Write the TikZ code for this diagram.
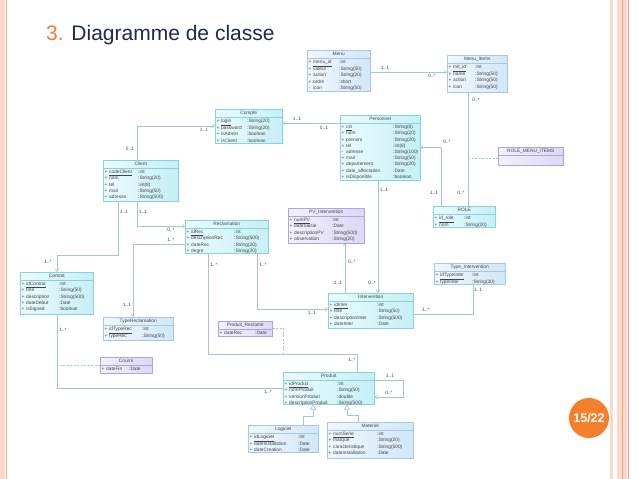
\documentclass[tikz,border=0pt]{standalone}
\usepackage{fontspec}
\usetikzlibrary{arrows.meta}
\newfontfamily\umlfont{Liberation Sans}
\newfontfamily\titlefont{Liberation Sans}

\definecolor{kcyanA}{HTML}{EAFBFD}
\definecolor{kcyanB}{HTML}{C6EFF6}
\definecolor{kcyanE}{HTML}{86D3E0}
\definecolor{kblueA}{HTML}{F0F7FD}
\definecolor{kblueB}{HTML}{D2E7F8}
\definecolor{kblueE}{HTML}{A3C9EA}
\definecolor{klavA}{HTML}{F2F0FC}
\definecolor{klavB}{HTML}{DCD8F6}
\definecolor{klavE}{HTML}{ACA6DC}
\definecolor{linec}{HTML}{A3C4E0}
\definecolor{textc}{HTML}{444444}
\definecolor{numorange}{HTML}{EE7F3B}
\definecolor{titlenavy}{HTML}{1B2A55}
\definecolor{stripeL}{HTML}{FCD8C9}
\definecolor{stripeD}{HTML}{F2A386}
\definecolor{pgorange}{HTML}{F4802C}

\tikzset{
  kcyan/.style={draw=kcyanE, left color=kcyanA, right color=kcyanB, line width=0.5pt, inner sep=0pt},
  kblue/.style={draw=kblueE, left color=kblueA, right color=kblueB, line width=0.5pt, inner sep=0pt},
  klav/.style={draw=klavE, left color=klavA, right color=klavB, line width=0.5pt, inner sep=0pt},
  hdr/.style={inner sep=0pt, text=textc, font=\umlfont\fontsize{4.8}{6.2}\selectfont},
  attr/.style={inner sep=0pt, text=textc, font=\umlfont\fontsize{4.8}{6.2}\selectfont, align=left},
  lbl/.style={inner sep=0pt, text=textc, font=\umlfont\fontsize{4.8}{6.2}\selectfont},
  assoc/.style={draw=linec, line width=0.55pt},
  nav/.style={assoc, -{Straight Barb[length=2.4pt,width=3.6pt]}},
  dep/.style={assoc, dash pattern=on 2pt off 1.5pt},
  gen/.style={assoc, -{Triangle[open, fill=white, length=5pt, width=6pt]}},
}

% #1 name, #2 style, #3 x, #4 y, #5 width, #6 height, #7 title, #8 name column width, #9 rows
\newcommand\umlclass[9]{%
  \node[#2, anchor=north west, minimum width=#5pt, minimum height=#6pt] (#1) at (#3,#4) {};
  \node[hdr, anchor=base] (#1-h) at ([yshift=-5.8pt]#1.north) {#7};
  \draw[draw=#2E, line width=0.5pt] ([yshift=-8pt]#1.north west) -- ([yshift=-8pt]#1.north east);
  \node[attr, anchor=north west] (#1-b) at ([shift={(1.5pt,-8.9pt)}]#1.north west)
    {\begin{tabular}{@{}p{4.5pt}@{}p{#8pt}@{}l@{}}#9\end{tabular}};
}
\newcommand\ul[1]{\underline{#1}}

\begin{document}
\begin{tikzpicture}[x=1pt,y=-1pt]
\useasboundingbox (0,0) rectangle (638,479);
\fill[white] (0,0) rectangle (638,479);

% slide borders
\fill[stripeL] (0,0) rectangle (5,479);
\draw[stripeD, line width=0.8pt] (6.5,0) -- (6.5,479);
\fill[stripeL] (610,0) rectangle (613.3,479);
\fill[stripeL] (617.3,0) rectangle (622,479);
\draw[stripeD, line width=0.9pt] (622.5,0) -- (622.5,479);
\fill[stripeL] (623,0) rectangle (627.3,479);
\draw[stripeD, line width=0.9pt] (628,0) -- (628,479);

% title
\node[anchor=base west, inner sep=0pt, font=\titlefont\fontsize{21}{24}\selectfont] (title) at (46,41)
  {\textcolor{numorange}{3.} \textcolor{titlenavy}{Diagramme de classe}};

% page number
\node[circle, fill=pgorange, minimum size=40pt, inner sep=0pt, text=white,
  font=\umlfont\bfseries\fontsize{12.5}{14}\selectfont] (pgnum) at (589,418) {15/22};

% classes
\umlclass{menu}{kblue}{307}{50}{63}{41}{Menu}{26}{%
  + & \ul{menu\_id} & :int\\ + & valeur & :String(50)\\ + & action & :String(20)\\
  + & ordre & :short\\ - & icon & :String(50)}
\umlclass{mitems}{kblue}{447}{55}{60}{37}{Menu\_Items}{22}{%
  + & \ul{mit\_id} & :int\\ + & name & :String(50)\\ + & action & :String(50)\\
  + & icon & :String(50)}
\umlclass{compte}{kcyan}{215}{109}{67}{34}{Compte}{26}{%
  + & \ul{login} & :String(20)\\ + & password & :String(20)\\ + & isAdmin & :boolean\\
  + & isClient & :boolean}
\umlclass{personnel}{kcyan}{340}{115}{80}{65}{Personnel}{47}{%
  + & \ul{cin} & :String(8)\\ + & nom & :String(20)\\ + & prenom & :String(20)\\
  + & tel & :int(8)\\ - & adresse & :String(100)\\ + & mail & :String(50)\\
  + & departement & :String(20)\\ + & date\_affectation & :Date\\ + & isDisponible & :boolean}
\umlclass{client}{kcyan}{103}{160}{75}{41}{Client}{29}{%
  + & \ul{codeClient} & :int\\ + & nom & :String(20)\\ + & tel & :int(8)\\
  + & mail & :String(50)\\ + & adresse & :String(500)}
\umlclass{reclam}{kcyan}{185}{220}{83}{33}{Reclamation}{43}{%
  + & \ul{idRec} & :int\\ + & descriptionRec & :String(500)\\ + & dateRec & :String(20)\\
  + & degre & :String(20)}
\umlclass{pv}{klav}{288}{208}{76}{35}{PV\_Intervention}{38}{%
  + & \ul{numPV} & :int\\ + & dateSaisie & :Date\\ + & descriptionPV & :String(500)\\
  + & observation & :String(20)}
\umlclass{role}{kcyan}{433}{206}{62}{21}{ROLE}{25}{%
  + & \ul{id\_role} & :int\\ + & nom & :String(20)}
\umlclass{rmi}{klav}{498}{147}{65}{18}{ROLE\_MENU\_ITEMS}{10}{}
\umlclass{contrat}{kcyan}{20}{272}{73}{42}{Contrat}{33}{%
  + & \ul{idContrat} & :int\\ + & titre & :String(50)\\ + & description & :String(500)\\
  + & dateDebut & :Date\\ + & isSigned & :boolean}
\umlclass{typerec}{kblue}{103}{317}{70}{23}{TypeReclamation}{33}{%
  + & \ul{idTypeRec} & :int\\ + & typeRec & :String(50)}
\umlclass{prodrec}{klav}{218}{321}{54}{15}{Produit\_Reclamé}{31}{%
  + & dateRec & :Date}
\umlclass{inter}{kcyan}{328}{293}{85}{35}{Intervention}{43}{%
  + & \ul{idInter} & :int\\ + & titre & :String(50)\\ + & descriptionInter & :String(500)\\
  + & dateInter & :Date}
\umlclass{typeinter}{kblue}{434}{263}{71}{21}{Type\_Intervention}{32}{%
  + & \ul{idTypeInter} & :int\\ + & typeInter & :String(20)}
\umlclass{courrir}{klav}{100}{357}{52}{16}{Courrir}{23}{%
  + & dateFin & :Date}
\umlclass{produit}{kcyan}{283}{372}{91}{32}{Produit}{48}{%
  + & \ul{idProduit} & :int\\ + & nomProduit & :String(50)\\ + & versionProduit & :double\\
  + & descriptionProduit & :String(500)}
\umlclass{logiciel}{kblue}{248}{425}{70}{27}{Logiciel}{44}{%
  + & \ul{idLogiciel} & :int\\ + & dateInstallation & :Date\\ + & dateCreation & :Date}
\umlclass{materiel}{kblue}{327}{422}{86}{36}{Materiel}{44}{%
  + & \ul{numSerie} & :int\\ + & marque & :String(20)\\ + & caracteristique & :String(500)\\
  + & dateInstallation & :Date}

% Menu -> Menu_Items
\coordinate (r1) at (400,72);
\draw[nav] (menu.east |- r1) -- (mitems.west |- r1);
\node[lbl] (l1a) at (385,67.5) {1..1};
\node[lbl] (l1b) at (432,76) {0..*};

% Personnel -> Compte
\coordinate (r2) at (310,123);
\draw[nav] (personnel.west |- r2) -- (compte.east |- r2);
\node[lbl] (l2a) at (297,119) {1..1};
\node[lbl] (l2b) at (324,127.5) {0..1};

% Client -> Compte
\coordinate (r3) at (137,126);
\draw[nav] (client.north -| r3) |- (compte.west |- r3);
\node[lbl] (l3a) at (204,130) {1..1};
\node[lbl] (l3b) at (130,148.5) {0..1};

% Personnel -- ROLE
\coordinate (r4) at (441,147);
\draw[nav] (role.north -| r4) |- (personnel.east |- r4);
\node[lbl] (l4a) at (447,142) {0..*};
\node[lbl] (l4b) at (434,193) {1..1};

% Menu_Items -- ROLE, with association class
\coordinate (r5) at (468,150);
\draw[assoc] (mitems.south -| r5) -- (role.north -| r5);
\node[lbl] (l5a) at (476,100) {0..*};
\node[lbl] (l5b) at (461,193) {0..*};
\coordinate (r6) at (468,158);
\draw[dep] (r6) -- (rmi.west |- r6);

% Client -> Reclamation
\coordinate (r7) at (137,226);
\draw[nav] (client.south -| r7) |- (reclam.west |- r7);
\node[lbl] (l7a) at (143,212) {1..1};
\node[lbl] (l7b) at (171,229.5) {0..*};

% Client -> Contrat
\coordinate (r8) at (118,255);
\coordinate (r8b) at (57,255);
\draw[nav] (client.south -| r8) |- (r8b) -- (contrat.north -| r8b);
\node[lbl] (l8a) at (124,212) {1..1};
\node[lbl] (l8b) at (48,262) {1..*};

% Reclamation -> TypeReclamation
\coordinate (r9) at (133,244);
\draw[nav] (reclam.west |- r9) -| (typerec.north -| r9);
\node[lbl] (l9a) at (171,240) {1..*};
\node[lbl] (l9b) at (127,305) {1..1};

% Intervention -> PV_Intervention
\coordinate (r10) at (345,260);
\draw[nav] (inter.north -| r10) -- (pv.south -| r10);
\node[lbl] (l10a) at (352,262) {0..*};
\node[lbl] (l10b) at (338,283) {1..1};

% Personnel -> Intervention
\coordinate (r11) at (378,230);
\draw[nav] (personnel.south -| r11) -- (inter.north -| r11);
\node[lbl] (l11a) at (384,190) {1..1};
\node[lbl] (l11b) at (372,283) {0..*};

% Reclamation -> Intervention
\coordinate (r12) at (257,309);
\draw[nav] (reclam.south -| r12) |- (inter.west |- r12);
\node[lbl] (l12a) at (263,265) {1..*};
\node[lbl] (l12b) at (312,313) {1..1};

% Reclamation -- Produit, with association class Produit_Reclamé
\coordinate (r13) at (208,354);
\coordinate (r13b) at (357,354);
\draw[assoc] (reclam.south -| r13) |- (r13b) -- (produit.north -| r13b);
\node[lbl] (l13a) at (214,265) {1..*};
\node[lbl] (l13b) at (352,360) {1..*};
\coordinate (r14) at (283,328);
\draw[dep] (prodrec.east |- r14) -| (r13 -| r14);

% Contrat -- Produit, with association class Courrir
\coordinate (r15) at (57,388);
\draw[assoc] (contrat.south -| r15) |- (produit.west |- r15);
\node[lbl] (l15a) at (63,330) {1..*};
\node[lbl] (l15b) at (268,392) {1..*};
\coordinate (r16) at (57,365);
\draw[dep] (courrir.west |- r16) -- (r16);

% Produit self association
\coordinate (r17a) at (403,380);
\coordinate (r17b) at (403,397);
\draw[nav] (produit.east |- r17a) -- (r17a) -- (r17b) -- (produit.east |- r17b);
\node[lbl] (l17a) at (390,376) {1..1};
\node[lbl] (l17b) at (389,393) {0..*};

% Type_Intervention -- Intervention
\coordinate (r18) at (473,314);
\draw[assoc] (typeinter.south -| r18) |- (inter.east |- r18);
\node[lbl] (l18a) at (478,290) {1..1};
\node[lbl] (l18b) at (426,310) {1..*};

% generalisations
\coordinate (g1) at (303,416);
\coordinate (g1b) at (313,416);
\draw[gen] (logiciel.north -| g1) |- (g1b) -- (produit.south -| g1b);
\coordinate (g2) at (358,415);
\coordinate (g2b) at (347,415);
\draw[gen] (materiel.north -| g2) |- (g2b) -- (produit.south -| g2b);
\end{tikzpicture}
\end{document}
